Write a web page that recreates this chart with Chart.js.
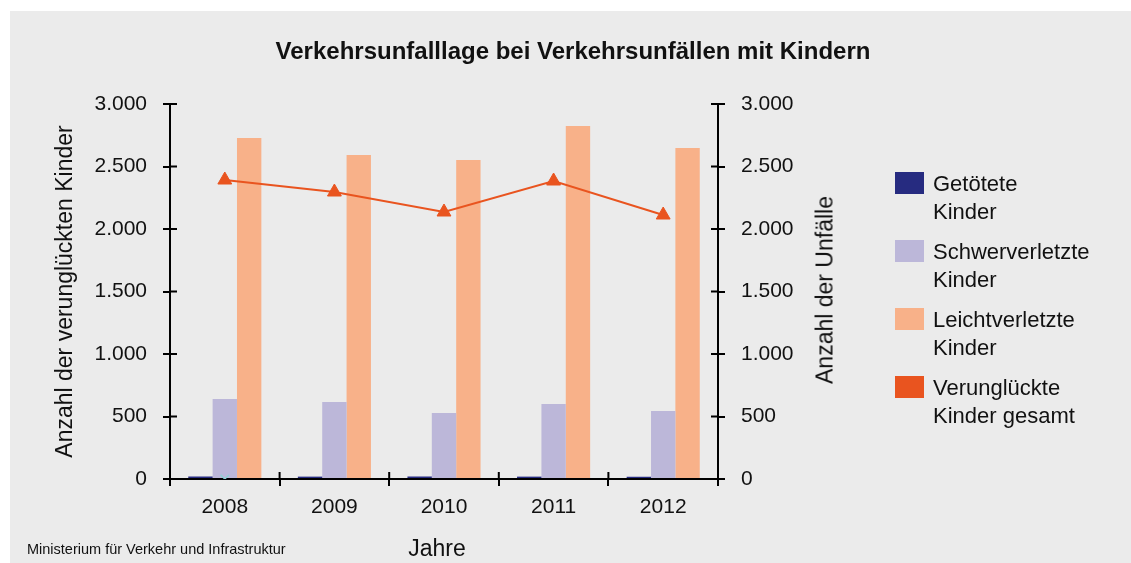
<!DOCTYPE html>
<html lang="de">
<head>
<meta charset="utf-8">
<title>Verkehrsunfalllage bei Verkehrsunfällen mit Kindern</title>
<script src="https://cdn.jsdelivr.net/npm/chart.js@4.4.1/dist/chart.umd.min.js"></script>
<style>
  html, body { margin: 0; padding: 0; background: #fff; }
  body { width: 1131px; height: 563px; position: relative; overflow: hidden;
         font-family: "Liberation Sans", Arial, sans-serif; color: #111; }
  #panel { position: absolute; left: 10px; top: 11px; right: 0; bottom: 0; background: #ebebeb; }
  #wrap { position: absolute; left: 0; top: 0; width: 1131px; height: 563px; }
  #title { position: absolute; left: 573px; top: 51px; transform: translate(-50%, -50%);
           font-weight: bold; font-size: 24px; white-space: nowrap; }
  #rightTitle { position: absolute; left: 825px; top: 290px; font-size: 23px; white-space: nowrap;
                transform: translate(-50%, -50%) rotate(-90deg); }
  #xTitle { position: absolute; left: 437px; top: 548px; font-size: 23px; transform: translate(-50%, -50%); }
  #source { position: absolute; left: 27px; top: 549px; font-size: 14.5px; transform: translateY(-50%); white-space: nowrap; }
  #legend { position: absolute; left: 895px; top: 170px; }
  .item { position: relative; height: 68px; }
  .swatch { position: absolute; left: 0; top: 2px; width: 29px; height: 22px; }
  .label { position: absolute; left: 38px; top: 0; font-size: 22px; line-height: 28px; white-space: nowrap; }
</style>
</head>
<body>
<div id="panel"></div>
<div id="wrap"><canvas id="chart"></canvas></div>
<div id="title">Verkehrsunfalllage bei Verkehrsunfällen mit Kindern</div>
<div id="rightTitle">Anzahl der Unfälle</div>
<div id="xTitle">Jahre</div>
<div id="source">Ministerium für Verkehr und Infrastruktur</div>
<div id="legend"></div>
<script>
const years = ['2008', '2009', '2010', '2011', '2012'];
const killed = [20, 19, 20, 19, 18];
const seriouslyInjured = [640, 616, 528, 600, 544];
const slightlyInjured = [2728, 2592, 2552, 2824, 2648];
const totalCasualties = [2392, 2296, 2136, 2384, 2112];
const crossMarker = [0, null, null, null, null];

const seriesNames = ['Getötete Kinder', 'Schwerverletzte Kinder', 'Leichtverletzte Kinder', 'Verunglückte Kinder gesamt'];
const seriesColors = ['#262b80', '#bcb7d9', '#f8b189', '#e9541f'];

const fmt = v => String(v).replace(/\B(?=(\d{3})+(?!\d))/g, '.');
const tickFont = { family: '"Liberation Sans", Arial, sans-serif', size: 21 };
const titleFont = { family: '"Liberation Sans", Arial, sans-serif', size: 23 };

// ticks that cross the axis line (Chart.js only draws the outer half)
const innerTicks = {
    id: 'innerTicks',
    afterDraw(chart) {
        const ctx = chart.ctx;
        const area = chart.chartArea;
        const x = chart.scales.x;
        ctx.save();
        ctx.strokeStyle = '#000';
        ctx.lineWidth = 2;
        ctx.beginPath();
        ['y', 'y2'].forEach(id => {
            const s = chart.scales[id];
            const edge = id === 'y' ? area.left : area.right;
            const dir = id === 'y' ? 1 : -1;
            s.ticks.forEach((t, i) => {
                const py = s.getPixelForTick(i);
                ctx.moveTo(edge, py);
                ctx.lineTo(edge + dir * 7, py);
            });
        });
        const half = (x.getPixelForValue(1) - x.getPixelForValue(0)) / 2;
        for (let i = 0; i <= years.length; i++) {
            const px = x.getPixelForValue(0) - half + i * half * 2;
            ctx.moveTo(px, area.bottom);
            ctx.lineTo(px, area.bottom - 7);
        }
        ctx.stroke();
        ctx.restore();
    }
};

const axisGrid = { drawOnChartArea: false, tickLength: 7, color: '#000', lineWidth: 2 };
const axisBorder = { display: true, color: '#000', width: 2 };

new Chart(document.getElementById('chart'), {
    data: {
        labels: years,
        datasets: [
            { type: 'line', label: seriesNames[3], data: totalCasualties, yAxisID: 'y2', order: 0,
              borderColor: seriesColors[3], borderWidth: 2, pointStyle: 'triangle', pointRadius: 8,
              pointBackgroundColor: seriesColors[3], pointBorderColor: seriesColors[3], pointBorderWidth: 1 },
            { type: 'line', label: 'marker', data: crossMarker, yAxisID: 'y', order: 0, showLine: false,
              pointStyle: 'crossRot', pointRadius: 6, pointBorderColor: '#8fd0d4', pointBorderWidth: 1.5 },
            { type: 'bar', label: seriesNames[0], data: killed, backgroundColor: seriesColors[0], order: 1 },
            { type: 'bar', label: seriesNames[1], data: seriouslyInjured, backgroundColor: seriesColors[1], order: 1 },
            { type: 'bar', label: seriesNames[2], data: slightlyInjured, backgroundColor: seriesColors[2], order: 1 }
        ]
    },
    options: {
        responsive: true,
        maintainAspectRatio: false,
        animation: false,
        devicePixelRatio: 1,
        layout: { padding: { top: 104, left: 0, right: 0, bottom: 0 } },
        datasets: { bar: { categoryPercentage: 0.667, barPercentage: 1 } },
        plugins: { legend: { display: false }, tooltip: { enabled: false } },
        scales: {
            x: {
                offset: true,
                grid: Object.assign({ offset: true }, axisGrid),
                border: axisBorder,
                ticks: { font: tickFont, color: '#111', padding: 9 },
                afterFit: s => { s.height = 84; }
            },
            y: {
                position: 'left', min: 0, max: 3000,
                grid: axisGrid, border: axisBorder,
                ticks: { stepSize: 500, callback: fmt, font: tickFont, color: '#111', padding: 16 },
                title: { display: true, text: 'Anzahl der verunglückten Kinder', font: titleFont, color: '#111', padding: { top: 52 } },
                afterFit: s => { s.width = 170; }
            },
            y2: {
                position: 'right', min: 0, max: 3000,
                grid: axisGrid, border: axisBorder,
                ticks: { stepSize: 500, callback: fmt, font: tickFont, color: '#111', padding: 16 },
                afterFit: s => { s.width = 413; }
            }
        }
    },
    plugins: [innerTicks]
});

// legend with two-line labels
const legend = document.getElementById('legend');
seriesNames.forEach((name, i) => {
    const cut = name.indexOf(' ');
    const item = document.createElement('div');
    item.className = 'item';
    item.innerHTML = '<div class="swatch" style="background:' + seriesColors[i] + '"></div>' +
        '<div class="label">' + name.slice(0, cut) + '<br>' + name.slice(cut + 1) + '</div>';
    legend.appendChild(item);
});
</script>
</body>
</html>
